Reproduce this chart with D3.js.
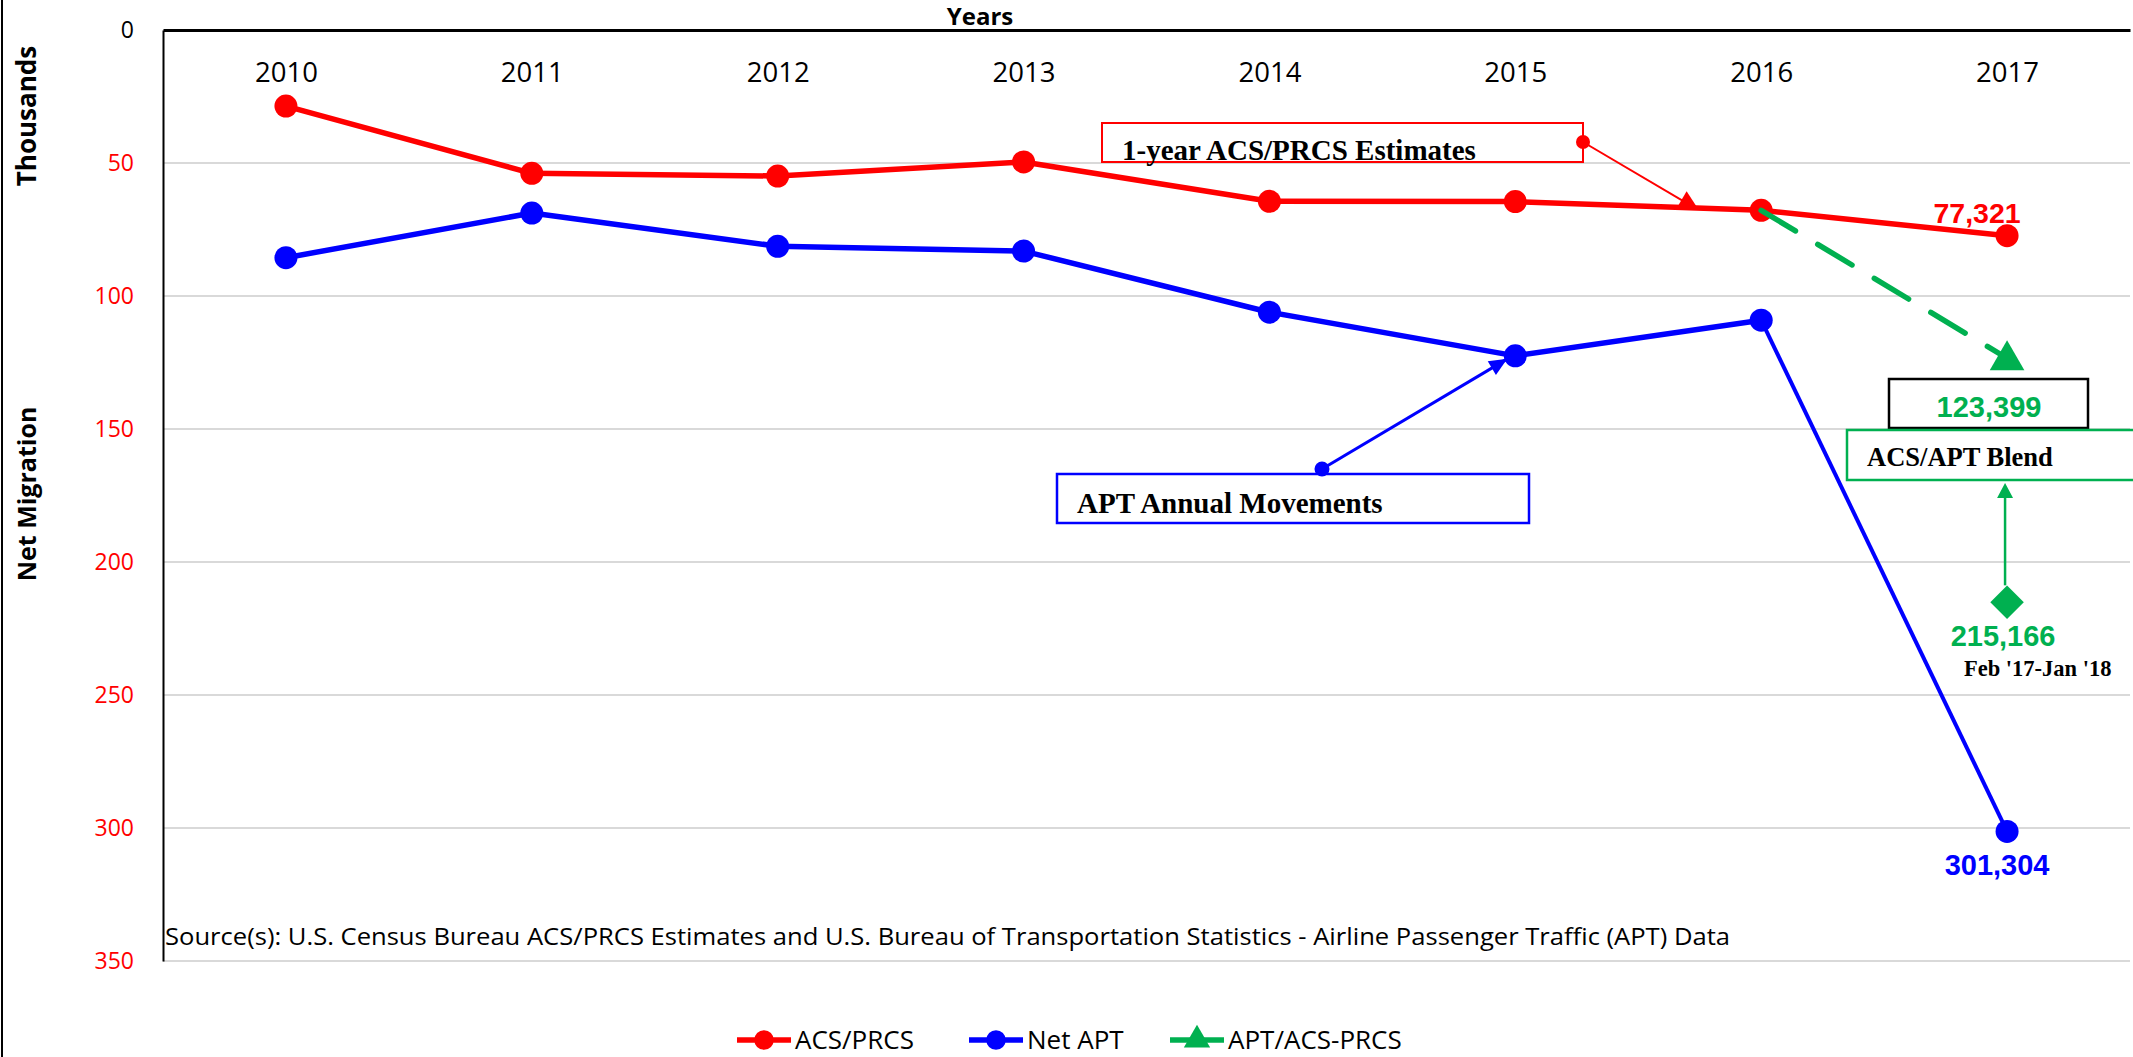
<!DOCTYPE html>
<meta charset="utf-8">
<style>
body { margin: 0; background: #fff; }
svg { display: block; }
.sans { font-family: "Open Sans", sans-serif; }
.serif { font-family: "Liberation Serif", "Times New Roman", serif; font-weight: bold; }
.arial { font-family: "Liberation Sans", Arial, sans-serif; font-weight: bold; }
</style>
<body>
<script src="https://d3js.org/d3.v7.min.js"></script>
<script>
// chart data (thousands)
var years = ["2010", "2011", "2012", "2013", "2014", "2015", "2016", "2017"];
var acsPrcs = [28.6, 53.9, 54.9, 49.6, 64.4, 64.5, 67.8, 77.321];
var netApt = [85.6, 68.8, 81.3, 83.1, 106.1, 122.5, 109.1, 301.304];
var aptAcsPrcs = [null, null, null, null, null, null, 67.8, 123.399];
var febJan = 215.166;   // Feb '17-Jan '18 value at 2017
var yTicks = [0, 50, 100, 150, 200, 250, 300, 350];

var W = 2133, H = 1057;
var plotLeft = 163, plotRight = 2130, plotTop = 30, plotBottom = 961;

var red = "#FF0000", blue = "#0000FF", green = "#00B050";

var svg = d3.select("body").append("svg")
    .attr("width", W)
    .attr("height", H);

var x = d3.scalePoint()
    .domain(years)
    .range([plotLeft, plotRight])
    .padding(0.5);

var y = d3.scaleLinear()
    .domain([0, 350])
    .range([plotTop, plotBottom]);

// frame edge on the left
svg.append("line")
    .attr("x1", 2).attr("x2", 2)
    .attr("y1", 0).attr("y2", H)
    .style("stroke", "#000")
    .style("stroke-width", 2);

// gridlines
svg.append("g")
    .selectAll("line")
    .data(yTicks.slice(1))
  .enter().append("line")
    .attr("x1", plotLeft).attr("x2", plotRight)
    .attr("y1", function(d) { return y(d); })
    .attr("y2", function(d) { return y(d); })
    .style("stroke", "#D9D9D9")
    .style("stroke-width", 2);

// y axis
var yAxis = svg.append("g")
    .attr("class", "sans")
    .attr("transform", "translate(" + plotLeft + ",0)")
    .call(d3.axisLeft(y).tickValues(yTicks).tickSize(0).tickPadding(29));
yAxis.select(".domain").style("stroke", "#000").style("stroke-width", 2);
yAxis.selectAll("text")
    .style("font-size", "23px")
    .style("fill", function(d) { return d === 0 ? "#000" : red; });

// x axis along the top
var xAxis = svg.append("g")
    .attr("class", "sans")
    .attr("transform", "translate(0," + plotTop + ")")
    .call(d3.axisBottom(x).tickSize(0).tickPadding(32));
xAxis.select(".domain").style("stroke", "#000").style("stroke-width", 3);
xAxis.selectAll("text")
    .style("font-size", "27.5px")
    .style("fill", "#000");

// axis titles
svg.append("text")
    .attr("class", "sans")
    .attr("x", 980).attr("y", 25)
    .attr("text-anchor", "middle")
    .style("font-size", "24px")
    .style("font-weight", "bold")
    .text("Years");

svg.append("text")
    .attr("class", "sans")
    .attr("transform", "translate(36,116) rotate(-90)")
    .attr("text-anchor", "middle")
    .style("font-size", "26px")
    .style("font-weight", "bold")
    .text("Thousands");

svg.append("text")
    .attr("class", "sans")
    .attr("transform", "translate(36,494) rotate(-90)")
    .attr("text-anchor", "middle")
    .style("font-size", "25px")
    .style("font-weight", "bold")
    .text("Net Migration");

// source note
svg.append("text")
    .attr("class", "sans")
    .attr("x", 165).attr("y", 945)
    .style("font-size", "23px")
    .attr("textLength", 1565)
    .attr("lengthAdjust", "spacingAndGlyphs")
    .text("Source(s): U.S. Census Bureau ACS/PRCS Estimates and U.S. Bureau of Transportation Statistics - Airline Passenger Traffic (APT) Data");

// ---- annotation boxes and leaders (drawn under the series) ----
function box(x0, y0, w, h, color, sw) {
  svg.append("rect")
      .attr("x", x0).attr("y", y0)
      .attr("width", w).attr("height", h)
      .style("fill", "none")
      .style("stroke", color)
      .style("stroke-width", sw);
}

function arrowHead(x1, y1, x2, y2, len, half, color) {
  var a = Math.atan2(y2 - y1, x2 - x1);
  var bx = x2 - len * Math.cos(a), by = y2 - len * Math.sin(a);
  var px = -Math.sin(a) * half, py = Math.cos(a) * half;
  svg.append("path")
      .attr("d", "M" + x2 + "," + y2 + "L" + (bx + px) + "," + (by + py) + "L" + (bx - px) + "," + (by - py) + "Z")
      .style("fill", color);
}

// 1-year ACS/PRCS Estimates
box(1102, 123, 481, 39, red, 2);
svg.append("text").attr("class", "serif")
    .attr("x", 1122).attr("y", 160)
    .style("font-size", "29px")
    .text("1-year ACS/PRCS Estimates");
var rx = x("2015") + 0.73 * x.step();
var ry = y(acsPrcs[5] + 0.73 * (acsPrcs[6] - acsPrcs[5]));
svg.append("line")
    .attr("x1", 1583).attr("y1", 142)
    .attr("x2", rx).attr("y2", ry)
    .style("stroke", red).style("stroke-width", 2);
arrowHead(1583, 142, rx + 4, ry + 2, 20, 10, red);
svg.append("circle").attr("cx", 1583).attr("cy", 142).attr("r", 7).style("fill", red);

// APT Annual Movements
box(1057, 474, 472, 49, blue, 2.5);
svg.append("text").attr("class", "serif")
    .attr("x", 1077).attr("y", 513)
    .style("font-size", "29px")
    .text("APT Annual Movements");
var bx2 = x("2015") - 8, by2 = y(netApt[5]) + 3;
svg.append("line")
    .attr("x1", 1322).attr("y1", 469)
    .attr("x2", bx2).attr("y2", by2)
    .style("stroke", blue).style("stroke-width", 3);
arrowHead(1322, 469, bx2, by2, 18, 8, blue);
svg.append("circle").attr("cx", 1322).attr("cy", 469).attr("r", 7.5).style("fill", blue);

// 123,399 value box
box(1889, 379, 199, 49, "#000", 2.5);
svg.append("text").attr("class", "arial")
    .attr("x", 1989).attr("y", 417)
    .attr("text-anchor", "middle")
    .style("font-size", "29px")
    .style("fill", green)
    .text(d3.format(",")(Math.round(aptAcsPrcs[7] * 1000)));

// ACS/APT Blend
box(1847, 430, 300, 50, green, 2.5);
svg.append("text").attr("class", "serif")
    .attr("x", 1867).attr("y", 466)
    .style("font-size", "26.5px")
    .text("ACS/APT Blend");

// arrow from the Feb-Jan diamond up to the blend box
var dx = x("2017") - 2, dy = y(febJan) - 17;
svg.append("line")
    .attr("x1", dx).attr("y1", dy)
    .attr("x2", dx).attr("y2", 495)
    .style("stroke", green).style("stroke-width", 2.5);
arrowHead(dx, dy, dx, 483, 15, 8, green);

// ---- series ----
var line = d3.line()
    .defined(function(d) { return d.v != null; })
    .x(function(d) { return x(d.k); })
    .y(function(d) { return y(d.v); });

function pts(arr) {
  return arr.map(function(v, i) { return {k: years[i], v: v}; });
}

var acsPts = pts(acsPrcs), aptPts = pts(netApt), blendPts = pts(aptAcsPrcs);

svg.append("path")
    .datum(acsPts)
    .attr("d", line)
    .style("fill", "none").style("stroke", red)
    .style("stroke-width", 5.5).style("stroke-linejoin", "round");

svg.append("path")
    .datum(aptPts.slice(0, 7))
    .attr("d", line)
    .style("fill", "none").style("stroke", blue)
    .style("stroke-width", 5.5).style("stroke-linejoin", "round");
svg.append("path")
    .datum(aptPts.slice(6))
    .attr("d", line)
    .style("fill", "none").style("stroke", blue)
    .style("stroke-width", 4);

svg.selectAll(".acs")
    .data(acsPts)
  .enter().append("circle")
    .attr("class", "acs")
    .attr("r", 11.5)
    .attr("cx", function(d) { return x(d.k); })
    .attr("cy", function(d) { return y(d.v); })
    .style("fill", red);

svg.selectAll(".apt")
    .data(aptPts)
  .enter().append("circle")
    .attr("class", "apt")
    .attr("r", 11.5)
    .attr("cx", function(d) { return x(d.k); })
    .attr("cy", function(d) { return y(d.v); })
    .style("fill", blue);

svg.append("path")
    .datum(blendPts)
    .attr("d", line)
    .style("fill", "none").style("stroke", green)
    .style("stroke-width", 5.5)
    .style("stroke-dasharray", "40,26")
    .style("stroke-linecap", "round");

svg.append("path")
    .attr("d", d3.symbol(d3.symbolTriangle, 520))
    .attr("transform", "translate(" + x("2017") + "," + (y(aptAcsPrcs[7]) + 2) + ")")
    .style("fill", green);

svg.append("path")
    .attr("d", d3.symbol(d3.symbolSquare, 560))
    .attr("transform", "translate(" + x("2017") + "," + y(febJan) + ") rotate(45)")
    .style("fill", green);

// data labels
var fmt = d3.format(",");
svg.append("text").attr("class", "arial")
    .attr("x", x("2017") - 30).attr("y", y(acsPrcs[7]) - 13)
    .attr("text-anchor", "middle")
    .style("font-size", "28.5px").style("fill", red)
    .text(fmt(Math.round(acsPrcs[7] * 1000)));

svg.append("text").attr("class", "arial")
    .attr("x", x("2017") - 10).attr("y", y(netApt[7]) + 44)
    .attr("text-anchor", "middle")
    .style("font-size", "29px").style("fill", blue)
    .text(fmt(Math.round(netApt[7] * 1000)));

svg.append("text").attr("class", "arial")
    .attr("x", x("2017") - 4).attr("y", y(febJan) + 44)
    .attr("text-anchor", "middle")
    .style("font-size", "29px").style("fill", green)
    .text(fmt(Math.round(febJan * 1000)));

svg.append("text").attr("class", "serif")
    .attr("x", 1964).attr("y", y(febJan) + 74)
    .style("font-size", "22.5px")
    .text("Feb '17-Jan '18");

// legend
var legendItems = [
  {name: "ACS/PRCS", color: red, shape: "circle", x: 737},
  {name: "Net APT", color: blue, shape: "circle", x: 969},
  {name: "APT/ACS-PRCS", color: green, shape: "triangle", x: 1170}
];

var legend = svg.selectAll(".legend")
    .data(legendItems)
  .enter().append("g")
    .attr("class", "legend")
    .attr("transform", function(d) { return "translate(" + d.x + ",1040)"; });

legend.append("line")
    .attr("x1", 0).attr("x2", 54)
    .style("stroke", function(d) { return d.color; })
    .style("stroke-width", 5.5);

legend.append("path")
    .attr("transform", "translate(27,0)")
    .attr("d", function(d) {
      return d.shape === "circle" ? d3.symbol(d3.symbolCircle, 300)() : d3.symbol(d3.symbolTriangle, 300)();
    })
    .style("fill", function(d) { return d.color; });

legend.append("text")
    .attr("class", "sans")
    .attr("x", 58)
    .attr("dy", "0.36em")
    .style("font-size", "26px")
    .text(function(d) { return d.name; });
</script>
